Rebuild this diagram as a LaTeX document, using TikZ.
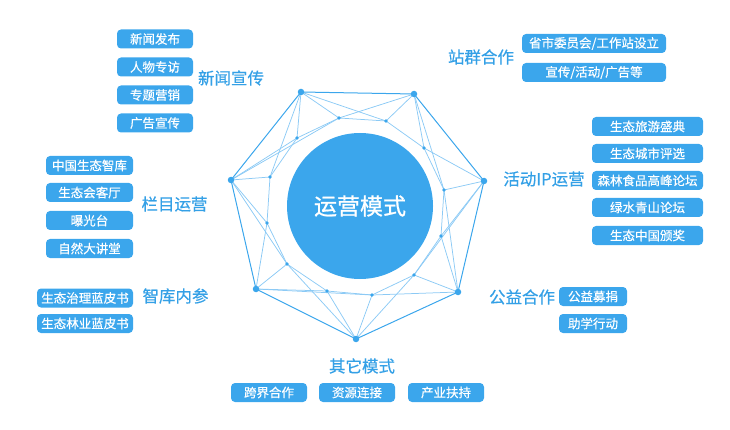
\documentclass[tikz,border=0pt]{standalone}
\usepackage{fontspec}
\setmainfont{Noto Sans CJK SC}
\newfontfamily\medfont{Noto Sans CJK SC}[FakeBold=0.5]
\newfontfamily\corefont{Noto Sans CJK SC}[FakeBold=0.8]
\definecolor{mblue}{RGB}{59,166,236}
\definecolor{lblue}{RGB}{140,202,245}
\definecolor{tblue}{RGB}{52,160,230}
\begin{document}
\begin{tikzpicture}[x=1pt,y=-1pt,
  tag/.style={fill=mblue,rounded corners=4pt,text=white,font=\medfont\fontsize{12.5}{12.5}\selectfont,minimum height=19pt,inner sep=0pt,anchor=center},
  lbl/.style={text=tblue,font=\medfont\fontsize{16.5}{17}\selectfont,inner sep=0pt},
  edgeline/.style={draw=mblue,line width=1pt},
  meshline/.style={draw=lblue,line width=0.75pt},
  bigdot/.style={fill=mblue,circle,inner sep=0pt,minimum size=6.5pt},
  smalldot/.style={fill=mblue,circle,inner sep=0pt,minimum size=3.8pt}]
\useasboundingbox (0,0) rectangle (730,430);

% network points
\coordinate (O1) at (301,92);
\coordinate (O2) at (414,94);
\coordinate (O3) at (484,181);
\coordinate (O4) at (458,292);
\coordinate (O5) at (356,339);
\coordinate (O6) at (256,289);
\coordinate (O7) at (231,180);
\coordinate (I1) at (339,118);
\coordinate (I2) at (386,121);
\coordinate (I3) at (424,148);
\coordinate (I4) at (444,190);
\coordinate (I5) at (441,236);
\coordinate (I6) at (414,275);
\coordinate (I7) at (372,295);
\coordinate (I8) at (327,291);
\coordinate (I9) at (287,264);
\coordinate (I10) at (267,223);
\coordinate (I11) at (270,177);
\coordinate (I12) at (297,138);

% mesh
\foreach \a/\b in {I12/I1,I1/I2,I2/I3,I3/I4,I4/I5,I5/I6,I6/I7,I7/I8,I8/I9,I9/I10,I10/I11,I11/I12,
  O1/I1,O1/I2,O1/I12,O1/I11,
  O2/I1,O2/I2,O2/I3,O2/I4,
  O3/I3,O3/I4,O3/I5,O3/I6,
  O4/I4,O4/I5,O4/I6,O4/I7,
  O5/I6,O5/I7,O5/I8,O5/I9,
  O6/I8,O6/I9,O6/I10,O6/I7,
  O7/I10,O7/I11,O7/I12,O7/I9,O7/I1}
  \draw[meshline] (\a) -- (\b);
\draw[edgeline] (O1) -- (O2) -- (O3) -- (O4) -- (O5) -- (O6) -- (O7) -- cycle;
\foreach \p in {O1,O2,O3,O4,O5,O6,O7} \node[bigdot] at (\p) {};
\foreach \p in {I1,I2,I3,I4,I5,I6,I7,I8,I9,I10,I11,I12} \node[smalldot] at (\p) {};

% centre
\node[circle,fill=mblue,minimum size=146pt,inner sep=0pt,text=white,font=\corefont\fontsize{23}{23}\selectfont] (core) at (360,206) {运营模式};

% news
\node[lbl] (news) at (231,78) {新闻宣传};
\node[tag,minimum width=76pt] (n1) at (155,39) {新闻发布};
\node[tag,minimum width=76pt] (n2) at (155,67) {人物专访};
\node[tag,minimum width=76pt] (n3) at (155,95) {专题营销};
\node[tag,minimum width=76pt] (n4) at (155,123) {广告宣传};

% station
\node[lbl] (stat) at (481,57) {站群合作};
\node[tag,minimum width=144pt] (s1) at (594,43.5) {省市委员会/工作站设立};
\node[tag,minimum width=144pt] (s2) at (594,72.5) {宣传/活动/广告等};

% IP
\node[lbl] (ip) at (544,179) {活动IP运营};
\node[tag,minimum width=111pt] (p1) at (647.5,126.5) {生态旅游盛典};
\node[tag,minimum width=111pt] (p2) at (647.5,153.5) {生态城市评选};
\node[tag,minimum width=111pt] (p3) at (647.5,180.5) {森林食品高峰论坛};
\node[tag,minimum width=111pt] (p4) at (647.5,207.5) {绿水青山论坛};
\node[tag,minimum width=111pt] (p5) at (647.5,235.5) {生态中国颁奖};

% column
\node[lbl] (col) at (174.5,204) {栏目运营};
\node[tag,minimum width=87pt] (c1) at (89.5,165.5) {中国生态智库};
\node[tag,minimum width=87pt] (c2) at (89.5,192.5) {生态会客厅};
\node[tag,minimum width=87pt] (c3) at (89.5,220.5) {曝光台};
\node[tag,minimum width=87pt] (c4) at (89.5,248.5) {自然大讲堂};

% think tank
\node[lbl] (tank) at (175.5,296) {智库内参};
\node[tag,minimum width=96pt] (t1) at (85,298) {生态治理蓝皮书};
\node[tag,minimum width=96pt] (t2) at (85,323.5) {生态林业蓝皮书};

% public welfare
\node[lbl] (pub) at (522,297) {公益合作};
\node[tag,minimum width=68pt] (w1) at (593,296.5) {公益募捐};
\node[tag,minimum width=68pt] (w2) at (593,323.5) {助学行动};

% other
\node[lbl] (oth) at (362,366) {其它模式};
\node[tag,minimum width=76pt] (x1) at (269,392.5) {跨界合作};
\node[tag,minimum width=76pt] (x2) at (357,392.5) {资源连接};
\node[tag,minimum width=76pt] (x3) at (446,392.5) {产业扶持};
\end{tikzpicture}
\end{document}
